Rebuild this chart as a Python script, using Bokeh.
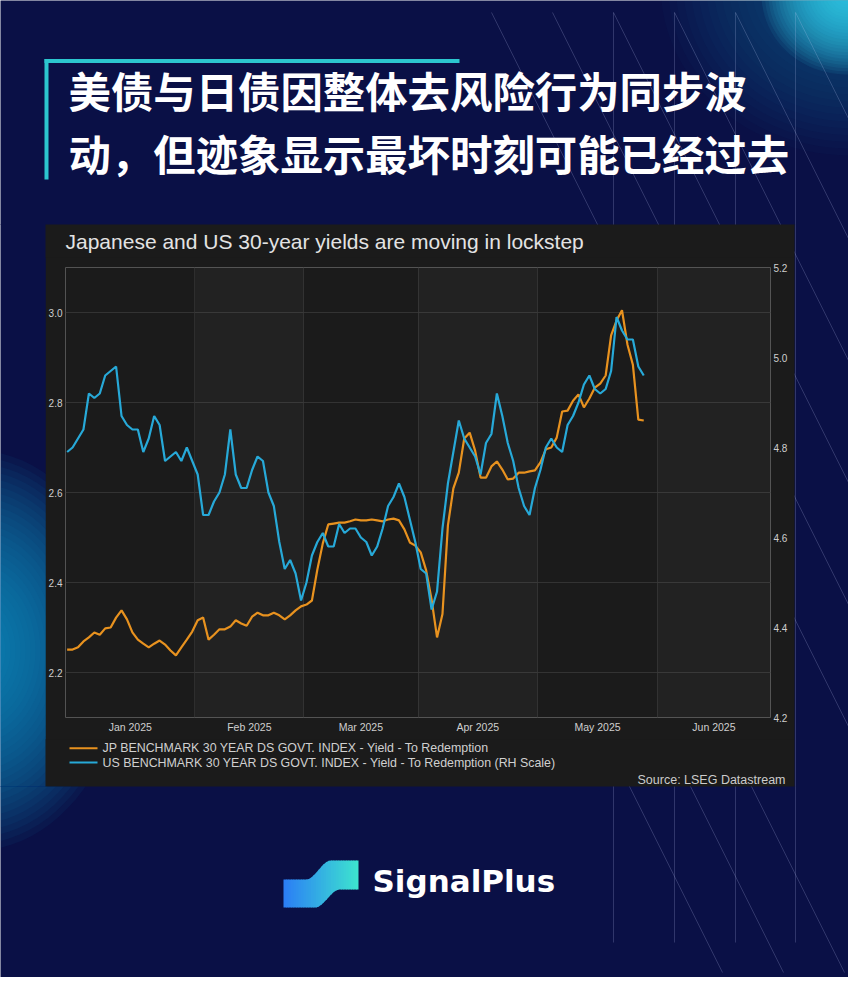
import numpy as np
from bokeh.plotting import figure
from bokeh.layouts import column, row
from bokeh.models import (Range1d, LinearAxis, FixedTicker, NumeralTickFormatter, BoxAnnotation)
from bokeh.core.properties import value
from bokeh.embed import file_html
from bokeh.resources import INLINE

# ---------------- data ----------------
months = ["Jan 2025", "Feb 2025", "Mar 2025", "Apr 2025", "May 2025", "Jun 2025"]
month_business_days = [23, 20, 21, 22, 22, 21]
trading_day = list(range(-1, 106))  # business-day index, -1 = 31 Dec 2024

jp_yield = [
    2.251, 2.251, 2.256, 2.269, 2.278, 2.289, 2.284, 2.298, 2.300, 2.322,
    2.338, 2.318, 2.289, 2.273, 2.264, 2.256, 2.264, 2.271, 2.262, 2.249,
    2.238, 2.256, 2.273, 2.291, 2.316, 2.322, 2.273, 2.284, 2.296, 2.296,
    2.302, 2.316, 2.309, 2.304, 2.324, 2.333, 2.327, 2.327, 2.333, 2.327,
    2.318, 2.327, 2.338, 2.347, 2.351, 2.360, 2.429, 2.487, 2.529, 2.531,
    2.533, 2.533, 2.536, 2.540, 2.538, 2.538, 2.540, 2.538, 2.536, 2.540,
    2.542, 2.538, 2.518, 2.489, 2.482, 2.467, 2.427, 2.362, 2.278, 2.330,
    2.527, 2.609, 2.644, 2.720, 2.733, 2.693, 2.633, 2.633, 2.658, 2.669,
    2.651, 2.629, 2.631, 2.644, 2.644, 2.647, 2.649, 2.667, 2.696, 2.700,
    2.722, 2.780, 2.782, 2.804, 2.818, 2.789, 2.809, 2.833, 2.842, 2.860,
    2.949, 2.982, 3.005, 2.929, 2.884, 2.762, 2.760,
]
us_yield = [
    4.79, 4.80, 4.82, 4.84, 4.92, 4.91, 4.92, 4.96, 4.97, 4.98,
    4.87, 4.85, 4.84, 4.84, 4.79, 4.82, 4.87, 4.85, 4.77, 4.78,
    4.79, 4.77, 4.80, 4.77, 4.74, 4.65, 4.65, 4.68, 4.70, 4.74,
    4.84, 4.74, 4.71, 4.71, 4.75, 4.78, 4.77, 4.70, 4.67, 4.59,
    4.53, 4.55, 4.52, 4.46, 4.50, 4.56, 4.59, 4.61, 4.58, 4.58,
    4.63, 4.61, 4.62, 4.62, 4.60, 4.59, 4.56, 4.58, 4.62, 4.67,
    4.69, 4.72, 4.69, 4.64, 4.59, 4.53, 4.52, 4.44, 4.48, 4.62,
    4.72, 4.79, 4.86, 4.82, 4.80, 4.78, 4.74, 4.81, 4.83, 4.92,
    4.87, 4.81, 4.77, 4.71, 4.67, 4.65, 4.71, 4.75, 4.80, 4.82,
    4.80, 4.79, 4.85, 4.87, 4.90, 4.94, 4.96, 4.93, 4.92, 4.93,
    4.97, 5.09, 5.06, 5.04, 5.04, 4.98, 4.96,
]
jp_ticks = [2.2, 2.4, 2.6, 2.8, 3.0]
us_ticks = [4.2, 4.4, 4.6, 4.8, 5.0, 5.2]

jp_label = "JP BENCHMARK 30 YEAR DS GOVT. INDEX - Yield - To Redemption"
us_label = "US BENCHMARK 30 YEAR DS GOVT. INDEX - Yield - To Redemption (RH Scale)"
chart_title = "Japanese and US 30-year yields are moving in lockstep"
source_text = "Source: LSEG Datastream"
headline = ["美债与日债因整体去风险行为同步波", "动，但迹象显示最坏时刻可能已经过去"]
brand = "SignalPlus"

# ---------------- style ----------------
NAVY = "#0a1046"
PANEL = "#1b1b1b"
TEAL = "#2cc6cf"
JP_C = "#e8921f"
US_C = "#27a9d8"
AXIS_C = "#cfcfcf"
LAT = "Liberation Sans"

W, H = 848, 977
PL, PR, PT, PB = 46, 795, 225, 787       # dark chart panel (page pixels)
FL, FR, FT, FB = 64, 770, 267, 717       # plot frame (page pixels)
HEAD_B, FOOT_T = 258, 740                # split of the panel: title / chart / legend
X0, X1 = -1.3, 128.3
UP = (-1, 0, 0, 0)     # overlap by one pixel to hide seams between pieces
LEFT = (0, 0, 0, -1)


def px_fig(ox, oy, w, h, color, margin=None):
    f = figure(width=w, height=h, output_backend="svg", toolbar_location=None, title=None,
               x_range=Range1d(ox, ox + w), y_range=Range1d(oy + h, oy),
               x_axis_type=None, y_axis_type=None, margin=margin,
               min_border_left=0, min_border_right=0, min_border_top=0, min_border_bottom=0)
    f.frame_align = False
    f.background_fill_color = color
    f.border_fill_color = color
    f.outline_line_color = None
    f.grid.visible = False
    return f


# ---------------- chart figure ----------------
MX = PL - 1                     # middle column left edge
c_top = HEAD_B - 1
c = figure(width=PR - MX, height=FOOT_T - c_top, output_backend="svg", toolbar_location=None,
           title=None, margin=UP,
           x_range=Range1d(X0, X1), y_range=Range1d(2.1, 3.1),
           min_border_left=FL - MX, min_border_right=PR - FR,
           min_border_top=FT - c_top, min_border_bottom=FOOT_T - FB)
c.frame_align = False
c.extra_y_ranges = {"us": Range1d(4.2, 5.2)}
c.background_fill_color = PANEL
c.border_fill_color = PANEL
c.outline_line_color = None

edges = [-0.5]
for d in month_business_days:
    edges.append(edges[-1] + d)
centers = []
for i in range(len(months)):
    a = X0 if i == 0 else edges[i]
    b = min(edges[i + 1], X1)
    centers.append(round((a + b) / 2, 2))

c.xgrid.ticker = FixedTicker(ticks=edges[1:-1])
c.xgrid.grid_line_color = "#2e2e2e"
c.ygrid.ticker = FixedTicker(ticks=jp_ticks)
c.ygrid.grid_line_color = "#333333"
for i in (1, 3, 5):
    c.add_layout(BoxAnnotation(left=edges[i], right=(edges[i + 1] if i < 5 else None),
                               fill_color="white", fill_alpha=0.03, line_color=None,
                               level="underlay"))

r_jp = c.line(trading_day, jp_yield, line_color=JP_C, line_width=2.2)
r_us = c.line(trading_day, us_yield, line_color=US_C, line_width=2.2, y_range_name="us")

c.yaxis.ticker = FixedTicker(ticks=jp_ticks)
c.yaxis.formatter = NumeralTickFormatter(format="0.0")
rax = LinearAxis(y_range_name="us", ticker=FixedTicker(ticks=us_ticks),
                 formatter=NumeralTickFormatter(format="0.0"))
c.add_layout(rax, "right")
c.xaxis.ticker = FixedTicker(ticks=centers)
ov = {}
for cc, m in zip(centers, months):
    ov[cc] = m
    ov[str(cc)] = m
c.xaxis.major_label_overrides = ov
for ax in [c.yaxis[0], rax, c.xaxis[0]]:
    ax.axis_line_color = None
    ax.major_tick_line_color = None
    ax.minor_tick_line_color = None
    ax.major_tick_out = 0
    ax.major_tick_in = 0
    ax.major_label_standoff = 3
    ax.major_label_text_font = LAT
    ax.major_label_text_font_size = "10px"
    ax.major_label_text_color = AXIS_C
c.xaxis.major_label_text_font_size = "10.5px"

# ---------------- chart title strip and legend/source strip ----------------
head = px_fig(MX, PT - 1, PR - MX, HEAD_B - PT + 1, PANEL)
head.text(x=[65], y=[241], text=[chart_title], text_font=value(LAT), text_font_size="21px",
          text_color="#e3e3e3", text_baseline="alphabetic")

foot = px_fig(MX, FOOT_T - 1, PR - MX, PB - FOOT_T + 1, PANEL, margin=UP)
leg_y = [747.7, 762.0]
foot.segment(x0=[69, 69], y0=leg_y, x1=[97, 97], y1=leg_y, line_color=[JP_C, US_C], line_width=2)
foot.text(x=[102, 102], y=leg_y, text=[jp_label, us_label],
          text_font=value(LAT), text_font_size="12.4px", text_color="#d0d0d0",
          text_baseline="alphabetic")
foot.text(x=[785], y=[779], text=[source_text], text_font=value(LAT), text_font_size="12.5px",
          text_color="#cccccc", text_align="right", text_baseline="alphabetic")


# ---------------- background pieces (page pixel coordinates) ----------------
def add_glow(f, cx, cy, rx, ry, color, n, alpha):
    t = np.linspace(0, 2 * np.pi, 90, endpoint=False)
    for k in range(n):
        s = 1 - k / n
        f.patch(cx + rx * s * np.cos(t), cy + ry * s * np.sin(t),
                fill_color=color, fill_alpha=alpha, line_color=None)


line_x0, line_y0, line_x1, line_y1 = [], [], [], []
for x0 in (613, 674, 735, 795):
    line_x0.append(x0); line_y0.append(12); line_x1.append(x0); line_y1.append(942)
for x0 in (491, 552, 613, 674, 735, 795):
    line_x0.append(x0); line_y0.append(12); line_x1.append(x0 + 480); line_y1.append(972)
for x0 in (552, 613, 674):
    line_x0.append(x0); line_y0.append(632); line_x1.append(x0 + 170); line_y1.append(972)


def decorate(f):
    add_glow(f, -25, 650, 150, 200, "#0e9fd2", 30, 0.06)
    add_glow(f, 850, -15, 190, 170, "#1aa8dc", 25, 0.022)
    add_glow(f, 846, -6, 85, 80, "#33d8ec", 25, 0.075)
    f.segment(line_x0, line_y0, line_x1, line_y1, line_color="#c8d4ff", line_alpha=0.2, line_width=1)


top = px_fig(0, 0, W, PT, NAVY)
left = px_fig(0, PT - 1, PL, PB - PT + 1, NAVY)
right = px_fig(PR - 1, PT - 1, W - PR + 1, PB - PT + 1, NAVY, margin=LEFT)
bottom = px_fig(0, PB - 1, W, H - PB + 1, NAVY, margin=UP)
for f in (top, left, right, bottom):
    decorate(f)

# headline with bracket
top.quad(left=[44, 44], right=[459, 48], top=[58.5, 58.5], bottom=[62.5, 179],
         fill_color=TEAL, line_color=None)
top.text(x=[68, 68], y=[89, 151.5], text=headline, text_font=value("Noto Sans CJK SC"),
         text_font_style="bold", text_font_size="42.4px", text_color="white",
         text_baseline="alphabetic")


# logo
def smooth(t):
    t = min(max(t, 0.0), 1.0)
    return t * t * (3 - 2 * t)


def logo_top(x):
    return 879 - 19 * smooth((x - 306) / 24)


def logo_bot(x):
    return 907 - 18 * smooth((x - 315) / 24)


c0 = np.array([0x2b, 0x7f, 0xf5])
c1 = np.array([0x3d, 0xe3, 0xcf])
xe = np.linspace(283, 358, 31)
for i in range(30):
    a, b = xe[i], min(xe[i + 1] + 0.6, 358)
    fr = i / 29
    col = c0 * (1 - fr) + c1 * fr
    hexcol = "#%02x%02x%02x" % tuple(int(round(v)) for v in col)
    bottom.patch([a, b, b, a], [logo_top(a), logo_top(b), logo_bot(b), logo_bot(a)],
                 fill_color=hexcol, line_color=None)
bottom.text(x=[372], y=[880], text=[brand], text_font=value("DejaVu Sans"), text_font_style="bold",
            text_font_size="31px", text_color="white", text_baseline="alphabetic")

middle = column(head, c, foot, spacing=0, margin=LEFT)
layout = column(top, row(left, middle, right, spacing=0, margin=UP), bottom, spacing=0)
open("out.html", "w").write(file_html(layout, INLINE))
